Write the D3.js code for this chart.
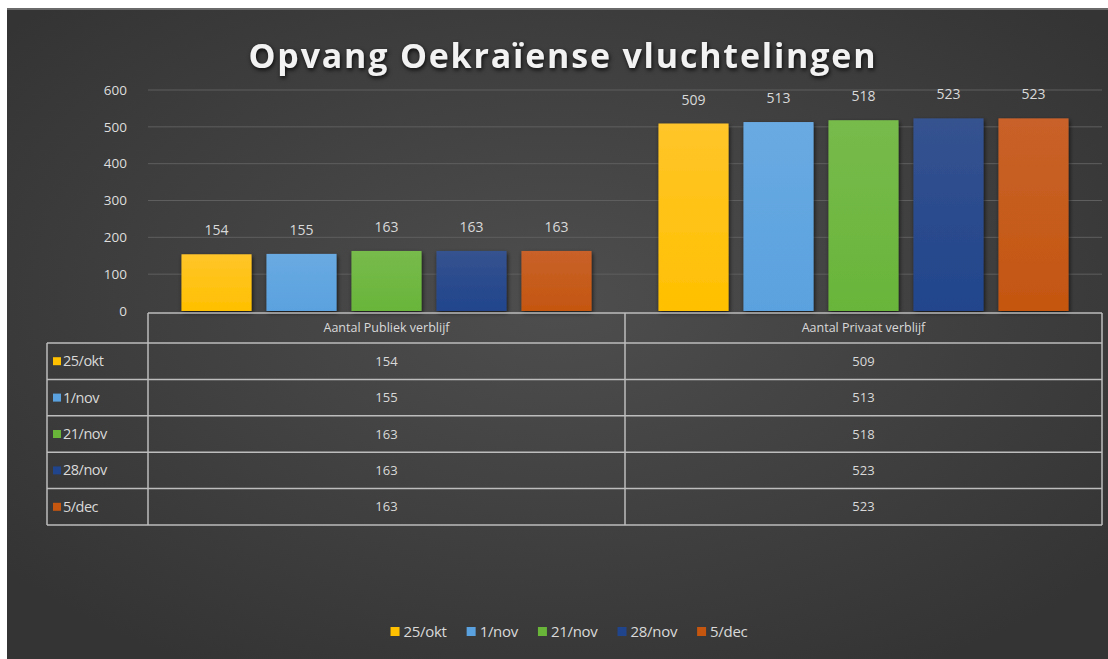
<!DOCTYPE html>
<html>
<head>
<meta charset="utf-8">
<script src="https://cdn.jsdelivr.net/npm/d3@7"></script>
<style>
  html, body { margin: 0; background: #fff; overflow: hidden; }
  svg { display: block; }
  text { font-family: "Open Sans", "DejaVu Sans", sans-serif; }
</style>
</head>
<body>
<div id="container"></div>
<script>
/* CONSTANTS AND GLOBALS */
const width = 1108;
const height = 659;

// data
const categories = ["Aantal Publiek verblijf", "Aantal Privaat verblijf"];
const seriesNames = ["25/okt", "1/nov", "21/nov", "28/nov", "5/dec"];
const publiek = [154, 155, 163, 163, 163];
const privaat = [509, 513, 518, 523, 523];
const yTicks = [0, 100, 200, 300, 400, 500, 600];
const colors = ["#ffc000", "#5aa2df", "#69b53a", "#21458c", "#c4560f"];
const colorsTop = ["#ffc52a", "#6aaae2", "#77bb4c", "#35528f", "#c9622a"];

const values = [publiek, privaat];

const svg = d3.select("#container")
  .append("svg")
  .attr("width", width)
  .attr("height", height);

const defs = svg.append("defs");

const bg = defs.append("radialGradient")
  .attr("id", "bg")
  .attr("cx", "50%").attr("cy", "45%").attr("r", "65%");
bg.append("stop").attr("offset", "0%").attr("stop-color", "#4e4e4e");
bg.append("stop").attr("offset", "100%").attr("stop-color", "#343434");

colors.forEach((c, i) => {
  const g = defs.append("linearGradient")
    .attr("id", "bar" + i)
    .attr("x1", 0).attr("y1", 0).attr("x2", 0).attr("y2", 1);
  g.append("stop").attr("offset", "0%").attr("stop-color", colorsTop[i]);
  g.append("stop").attr("offset", "100%").attr("stop-color", c);
});

const shadow = defs.append("filter").attr("id", "shadow")
  .attr("x", "-10%").attr("y", "-10%").attr("width", "130%").attr("height", "130%");
shadow.append("feDropShadow")
  .attr("dx", 1).attr("dy", 2).attr("stdDeviation", 2)
  .attr("flood-color", "#000").attr("flood-opacity", 0.7);

// chart area background
svg.append("rect")
  .attr("x", 7).attr("y", 8)
  .attr("width", width - 7).attr("height", height - 8)
  .attr("fill", "url(#bg)");
svg.append("line")
  .attr("x1", 7).attr("x2", width).attr("y1", 9).attr("y2", 9)
  .attr("stroke", "#6a6a6a").attr("stroke-width", 2);

// SCALES
const y = d3.scaleLinear().domain([0, 600]).range([311, 90]);

const x0 = d3.scaleBand()
  .domain(categories)
  .range([148, 1102]);

const x1 = d3.scaleBand()
  .domain(seriesNames)
  .range([0, x0.bandwidth()])
  .paddingInner(0.176)
  .paddingOuter(0.394);

// gridlines
svg.append("g")
  .selectAll("line")
  .data(yTicks.filter(d => d > 0))
  .join("line")
  .attr("x1", 148).attr("x2", 1102)
  .attr("y1", d => y(d)).attr("y2", d => y(d))
  .attr("stroke", "#5e5e5e")
  .attr("stroke-width", 1);

// y axis labels
svg.append("g")
  .selectAll("text")
  .data(yTicks)
  .join("text")
  .attr("x", 127)
  .attr("y", d => y(d))
  .attr("dy", "0.35em")
  .attr("text-anchor", "end")
  .attr("fill", "#dedede")
  .attr("font-size", 13.5)
  .text(d => d);

// title
svg.append("text")
  .attr("x", 562)
  .attr("y", 68)
  .attr("text-anchor", "middle")
  .attr("fill", "#f2f2f2")
  .attr("font-size", 34)
  .attr("font-weight", "bold")
  .attr("textLength", 627)
  .attr("lengthAdjust", "spacing")
  .style("filter", "drop-shadow(1px 2px 2px rgba(0,0,0,0.8))")
  .text("Opvang Oekraïense vluchtelingen");

// DRAW BARS
const groups = svg.append("g")
  .selectAll("g")
  .data(categories)
  .join("g")
  .attr("transform", d => "translate(" + x0(d) + ",0)");

groups.selectAll("rect")
  .data((d, ci) => seriesNames.map((s, si) => ({ s: s, si: si, v: values[ci][si] })))
  .join("rect")
  .attr("x", d => x1(d.s))
  .attr("y", d => y(d.v))
  .attr("width", x1.bandwidth())
  .attr("height", d => y(0) - y(d.v))
  .attr("fill", d => "url(#bar" + d.si + ")")
  .attr("filter", "url(#shadow)");

groups.selectAll("text.lbl")
  .data((d, ci) => seriesNames.map((s, si) => ({ s: s, si: si, v: values[ci][si] })))
  .join("text")
  .attr("class", "lbl")
  .attr("x", d => x1(d.s) + x1.bandwidth() / 2)
  .attr("y", d => y(d.v) - 19)
  .attr("text-anchor", "middle")
  .attr("fill", "#d9d9d9")
  .attr("font-size", 14)
  .text(d => d.v);

// DATA TABLE
const tableTop = 313;
const headerH = 30;
const rowH = 36.4;
const keyLeft = 47;
const tableBottom = tableTop + headerH + rowH * seriesNames.length;
const tbl = svg.append("g")
  .attr("stroke", "#bdbdbd")
  .attr("stroke-width", 1.5)
  .attr("fill", "none");

tbl.append("line")
  .attr("x1", x0.range()[0]).attr("x2", x0.range()[1])
  .attr("y1", tableTop).attr("y2", tableTop);

tbl.selectAll("line.row")
  .data(d3.range(seriesNames.length + 1))
  .join("line")
  .attr("class", "row")
  .attr("x1", keyLeft).attr("x2", x0.range()[1])
  .attr("y1", i => tableTop + headerH + i * rowH)
  .attr("y2", i => tableTop + headerH + i * rowH);

tbl.selectAll("line.col")
  .data(categories.map(c => x0(c)).concat([x0.range()[1]]))
  .join("line")
  .attr("class", "col")
  .attr("x1", d => d).attr("x2", d => d)
  .attr("y1", tableTop).attr("y2", tableBottom);

tbl.append("line")
  .attr("x1", keyLeft).attr("x2", keyLeft)
  .attr("y1", tableTop + headerH).attr("y2", tableBottom);

// header labels
svg.append("g")
  .selectAll("text")
  .data(categories)
  .join("text")
  .attr("x", d => x0(d) + x0.bandwidth() / 2)
  .attr("y", tableTop + headerH / 2)
  .attr("dy", "0.35em")
  .attr("text-anchor", "middle")
  .attr("fill", "#d9d9d9")
  .attr("font-size", 12.5)
  .text(d => d);

// row keys
const rows = svg.append("g")
  .selectAll("g")
  .data(seriesNames)
  .join("g")
  .attr("transform", (d, i) => "translate(0," + (tableTop + headerH + i * rowH + rowH / 2) + ")");

rows.append("rect")
  .attr("x", 53).attr("y", -4)
  .attr("width", 8).attr("height", 8)
  .attr("fill", (d, i) => colors[i]);

rows.append("text")
  .attr("x", 63)
  .attr("dy", "0.35em")
  .attr("fill", "#d9d9d9")
  .attr("font-size", 14.5)
  .attr("letter-spacing", -0.5)
  .text(d => d);

categories.forEach((c, ci) => {
  rows.append("text")
    .attr("x", x0(c) + x0.bandwidth() / 2)
    .attr("dy", "0.35em")
    .attr("text-anchor", "middle")
    .attr("fill", "#d9d9d9")
    .attr("font-size", 13)
    .text((d, i) => values[ci][i]);
});

// LEGEND
const legend = svg.append("g").attr("transform", "translate(0,632)");
const items = legend.selectAll("g")
  .data(seriesNames)
  .join("g");

items.append("rect")
  .attr("y", -5)
  .attr("width", 9).attr("height", 9)
  .attr("fill", (d, i) => colors[i]);

items.append("text")
  .attr("x", 13)
  .attr("dy", "0.35em")
  .attr("fill", "#d9d9d9")
  .attr("font-size", 15)
  .attr("letter-spacing", -0.3)
  .text(d => d);

const widthsL = [];
items.each(function () {
  widthsL.push(13 + d3.select(this).select("text").node().getComputedTextLength());
});
const gap = 20;
const total = d3.sum(widthsL) + gap * (widthsL.length - 1);
let lx = 569 - total / 2;
items.attr("transform", (d, i) => {
  const t = "translate(" + lx + ",0)";
  lx += widthsL[i] + gap;
  return t;
});
</script>
</body>
</html>
